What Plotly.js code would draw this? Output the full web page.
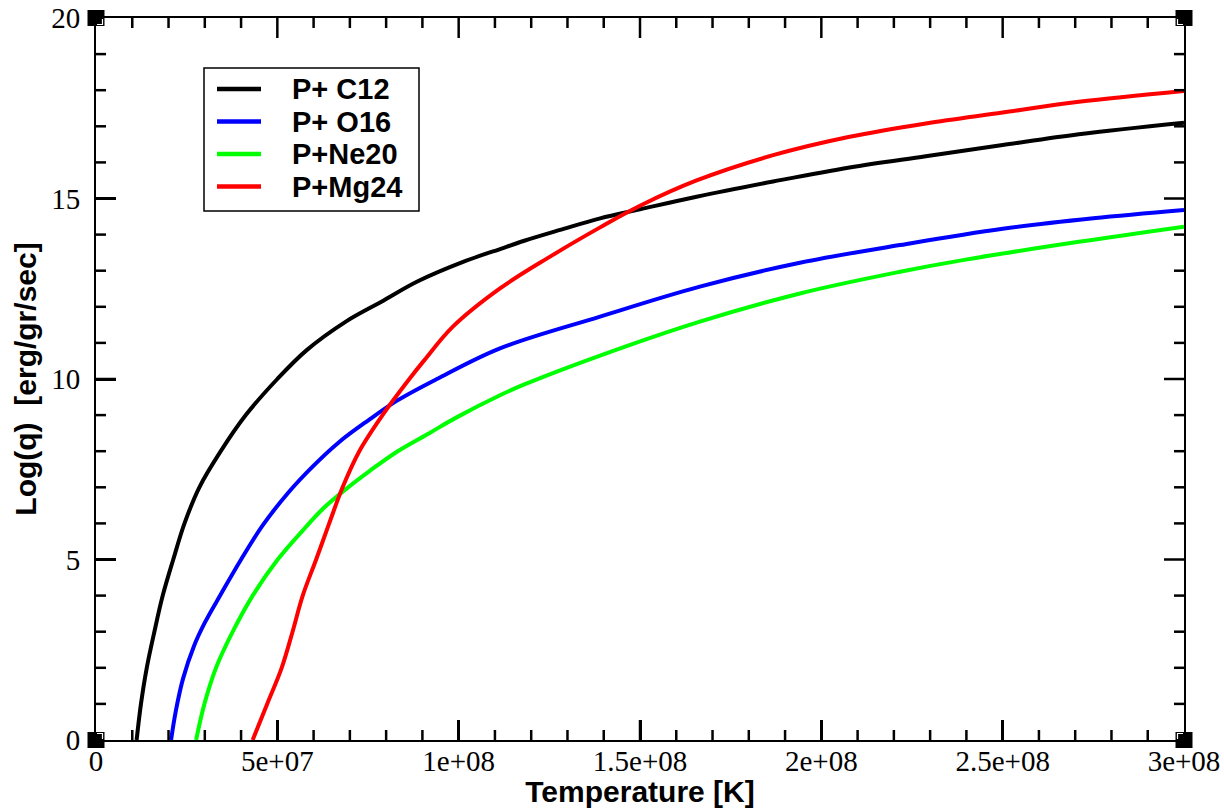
<!DOCTYPE html>
<html>
<head>
<meta charset="utf-8">
<script src="https://cdn.plot.ly/plotly-3.0.1.min.js"></script>
<style>html,body{margin:0;padding:0;background:#fff;}#chart{width:1224px;height:808px;}</style>
</head>
<body>
<div id="chart"></div>
<script>
// ---- data (temperatures in K, values are Log(q) in erg/gr/sec) ----
const seriesNames = ["P+ C12", "P+ O16", "P+Ne20", "P+Mg24"];
const seriesColors = ["#000000", "#0000ff", "#00ff00", "#ff0000"];

const tC12 = [1.12e7,1.24e7,1.40e7,1.61e7,1.84e7,2.13e7,2.44e7,2.85e7,3.44e7,4.13e7,5.0e7,5.81e7,6.89e7,7.87e7,8.86e7,1.014e8,1.114e8,1.181e8,1.28e8,1.39e8,1.50e8,1.656e8,1.867e8,2.078e8,2.288e8,2.50e8,2.71e8,3.0e8];
const qC12 = [0,1,2,3,4,5,6,7,8,9,10,10.8,11.59,12.14,12.7,13.25,13.6,13.83,14.13,14.45,14.7,15.05,15.47,15.86,16.17,16.48,16.78,17.1];

const tO16 = [2.07e7,2.2e7,2.4e7,2.7e7,3.0e7,3.45e7,4.0e7,4.6e7,5.3e7,6.0e7,6.7e7,7.5e7,8.3e7,9.4e7,1.114e8,1.39e8,1.665e8,1.941e8,2.217e8,2.50e8,2.75e8,3.0e8];
const qO16 = [0,0.8,1.7,2.6,3.25,4.05,5.0,5.95,6.85,7.6,8.25,8.85,9.4,10.0,10.85,11.73,12.56,13.22,13.71,14.16,14.45,14.68];

const tNe20 = [2.76e7,2.99e7,3.31e7,3.77e7,4.32e7,5.01e7,5.74e7,6.25e7,6.89e7,7.54e7,8.32e7,9.19e7,9.93e7,1.114e8,1.181e8,1.39e8,1.665e8,1.941e8,2.217e8,2.394e8,2.71e8,3.0e8];
const qNe20 = [0,1,2,3,4,5,5.85,6.4,6.95,7.45,8.0,8.5,8.93,9.55,9.85,10.65,11.59,12.37,12.97,13.3,13.8,14.22];

const tMg24 = [4.32e7,4.72e7,5.12e7,5.42e7,5.70e7,6.07e7,6.43e7,6.80e7,7.26e7,7.90e7,8.64e7,9.06e7,9.84e7,1.114e8,1.252e8,1.39e8,1.50e8,1.656e8,1.867e8,2.078e8,2.288e8,2.50e8,2.71e8,3.0e8];
const qMg24 = [0,1,2,3,4,5,6,7,8,9,10,10.53,11.45,12.51,13.39,14.2,14.8,15.5,16.2,16.71,17.08,17.38,17.68,17.98];

const xTickVals = [0, 5e7, 1e8, 1.5e8, 2e8, 2.5e8, 3e8];
const xTickText = ["0", "5e+07", "1e+08", "1.5e+08", "2e+08", "2.5e+08", "3e+08"];
const yTickVals = [0, 5, 10, 15, 20];
const yTickText = ["0", "5", "10", "15", "20"];
const xRange = [0, 3e8], xMinorStep = 1e7;
const yRange = [0, 20], yMinorStep = 1;

const xTitle = "Temperature [K]";
const yTitle = "Log(q)\u00a0 [erg/gr/sec]";

// ---- geometry helpers (pixel -> paper) ----
const W = 1224, H = 808;
const L = 96, R = 1184, T = 18, B = 740;
const PW = R - L, PH = B - T;
const px = p => (p - L) / PW;
const py = p => (B - p) / PH;

const xs = [tC12, tO16, tNe20, tMg24];
const ys = [qC12, qO16, qNe20, qMg24];

const traces = seriesNames.map((n, i) => ({
  type: "scatter", mode: "lines", name: n,
  x: xs[i], y: ys[i],
  line: {color: seriesColors[i], width: 4, shape: "spline", smoothing: 1},
  showlegend: false, hoverinfo: "skip"
}));

const shapes = [];
const annotations = [];

// inside ticks on all four sides (major 20px, minor 10px), placed in axis units
const tickLine = {color: "#000", width: 2.5};
const nX = Math.round((xRange[1] - xRange[0]) / xMinorStep);
for (let k = 1; k < nX; k++) {
  const v = xRange[0] + k * xMinorStep;
  const len = xTickVals.some(t => Math.abs(t - v) < xMinorStep / 100) ? 20 : 10;
  shapes.push({type: "line", xref: "x", yref: "paper", x0: v, x1: v, y0: 0, y1: len / PH, line: tickLine, layer: "above"});
  shapes.push({type: "line", xref: "x", yref: "paper", x0: v, x1: v, y0: 1, y1: 1 - len / PH, line: tickLine, layer: "above"});
}
const nY = Math.round((yRange[1] - yRange[0]) / yMinorStep);
for (let k = 1; k < nY; k++) {
  const v = yRange[0] + k * yMinorStep;
  const len = yTickVals.some(t => Math.abs(t - v) < yMinorStep / 100) ? 20 : 10;
  shapes.push({type: "line", xref: "paper", yref: "y", x0: 0, x1: len / PW, y0: v, y1: v, line: tickLine, layer: "above"});
  shapes.push({type: "line", xref: "paper", yref: "y", x0: 1, x1: 1 - len / PW, y0: v, y1: v, line: tickLine, layer: "above"});
}

// manual legend (box, line samples, labels)
shapes.push({type: "rect", xref: "paper", yref: "paper",
  x0: px(204), x1: px(419), y0: py(211), y1: py(68),
  line: {color: "#000", width: 1.5}, fillcolor: "#fff", layer: "above"});
const legendY = [89, 121.5, 154, 186.5];
seriesNames.forEach((n, i) => {
  shapes.push({type: "line", xref: "paper", yref: "paper",
    x0: px(217), x1: px(261), y0: py(legendY[i]), y1: py(legendY[i]),
    line: {color: seriesColors[i], width: 4.5}, layer: "above"});
  annotations.push({xref: "paper", yref: "paper", x: px(290), y: py(legendY[i]),
    xanchor: "left", yanchor: "middle", showarrow: false, text: n,
    font: {family: "Liberation Sans, Arial, sans-serif", size: 29, color: "#000", weight: "bold"}});
});

// corner squares
const corners = [[L, B, 1, -1], [R, B, -1, -1], [L, T, 1, 1], [R, T, -1, 1]];
corners.forEach(([cx, cy, dx, dy]) => {
  shapes.push({type: "rect", xref: "paper", yref: "paper",
    x0: px(cx - 8.5), x1: px(cx + 8.5), y0: py(cy + 8), y1: py(cy - 8),
    line: {width: 0}, fillcolor: "#000", layer: "above"});
  const ix = cx + dx * 6.5, iy = cy + dy * 6.5;
  shapes.push({type: "path", xref: "paper", yref: "paper",
    path: `M ${px(cx + dx)} ${py(iy)} L ${px(ix)} ${py(iy)} L ${px(ix)} ${py(cy + dy)}`,
    line: {color: "#fff", width: 1.2}, layer: "above"});
});

const tickFont = {family: "Liberation Serif, Times New Roman, serif", size: 29, color: "#000"};
const titleFont = {family: "Liberation Sans, Arial, sans-serif", size: 30, color: "#000", weight: "bold"};

const layout = {
  width: W, height: H,
  margin: {l: L, r: W - R, t: T, b: H - B, pad: 0},
  paper_bgcolor: "#fff", plot_bgcolor: "#fff",
  showlegend: false,
  xaxis: {
    range: xRange, tickmode: "array", tickvals: xTickVals, ticktext: xTickText,
    ticks: "inside", ticklen: 20, tickwidth: 2.5, tickcolor: "#000",
    showline: true, linewidth: 2, linecolor: "#000", mirror: true,
    showgrid: false, zeroline: false, tickfont: tickFont, ticklabelstandoff: -6,
    title: {text: xTitle, font: titleFont, standoff: 0}
  },
  yaxis: {
    range: yRange, tickmode: "array", tickvals: yTickVals, ticktext: yTickText,
    ticks: "inside", ticklen: 20, tickwidth: 2.5, tickcolor: "#000",
    showline: true, linewidth: 2, linecolor: "#000", mirror: true,
    showgrid: false, zeroline: false, tickfont: tickFont, ticklabelstandoff: 8,
    title: {text: yTitle, font: titleFont, standoff: 6}
  },
  shapes: shapes,
  annotations: annotations
};

Plotly.newPlot("chart", traces, layout, {displayModeBar: false});
</script>
</body>
</html>
